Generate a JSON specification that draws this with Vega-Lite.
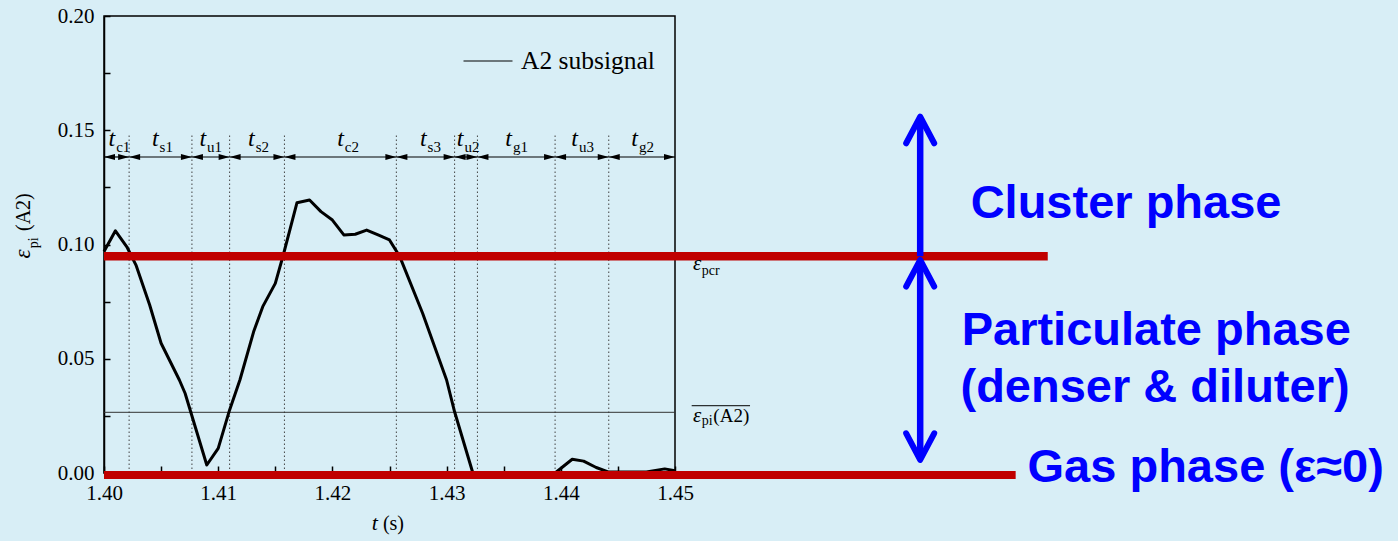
{
  "$schema": "https://vega.github.io/schema/vega-lite/v6.json",
  "width": 571,
  "height": 457,
  "autosize": {"type": "none"},
  "padding": {"left": 104, "top": 16, "right": 723, "bottom": 68},
  "background": "#d8eef6",
  "config": {
    "view": {"stroke": "#000000", "strokeWidth": 1.5},
    "font": "Liberation Serif"
  },
  "datasets": {
    "signal": [
      {"t": 1.4000, "v": 0.0969}, {"t": 1.4010, "v": 0.1060}, {"t": 1.4020, "v": 0.0990},
      {"t": 1.4028, "v": 0.0910}, {"t": 1.4040, "v": 0.0735}, {"t": 1.4050, "v": 0.0568},
      {"t": 1.4066, "v": 0.0407}, {"t": 1.4071, "v": 0.0349}, {"t": 1.4090, "v": 0.0035},
      {"t": 1.4100, "v": 0.0108}, {"t": 1.4110, "v": 0.0276}, {"t": 1.4119, "v": 0.0407},
      {"t": 1.4131, "v": 0.0618}, {"t": 1.4139, "v": 0.0728}, {"t": 1.4150, "v": 0.0830},
      {"t": 1.4157, "v": 0.0954}, {"t": 1.4169, "v": 0.1183}, {"t": 1.4180, "v": 0.1195},
      {"t": 1.4190, "v": 0.1144}, {"t": 1.4200, "v": 0.1107}, {"t": 1.4210, "v": 0.1042},
      {"t": 1.4220, "v": 0.1045}, {"t": 1.4230, "v": 0.1063}, {"t": 1.4240, "v": 0.1042},
      {"t": 1.4250, "v": 0.1020}, {"t": 1.4259, "v": 0.0947}, {"t": 1.4279, "v": 0.0699},
      {"t": 1.4300, "v": 0.0407}, {"t": 1.4307, "v": 0.0268}, {"t": 1.4323, "v": 0.0},
      {"t": 1.4395, "v": 0.0}, {"t": 1.4410, "v": 0.0060}, {"t": 1.4420, "v": 0.0052},
      {"t": 1.4431, "v": 0.0024}, {"t": 1.4442, "v": 0.0004}, {"t": 1.4475, "v": 0.0004},
      {"t": 1.4491, "v": 0.0018}, {"t": 1.4500, "v": 0.0010}
    ],
    "segments": [
      {"seg": "c1", "start": 1.4000, "end": 1.4022, "lx": 1.40098},
      {"seg": "s1", "start": 1.4022, "end": 1.4077, "lx": 1.40478},
      {"seg": "u1", "start": 1.4077, "end": 1.4110, "lx": 1.40894},
      {"seg": "s2", "start": 1.4110, "end": 1.4158, "lx": 1.41320},
      {"seg": "c2", "start": 1.4158, "end": 1.4256, "lx": 1.42100},
      {"seg": "s3", "start": 1.4256, "end": 1.4307, "lx": 1.42825},
      {"seg": "u2", "start": 1.4307, "end": 1.4327, "lx": 1.43147},
      {"seg": "g1", "start": 1.4327, "end": 1.4395, "lx": 1.43572},
      {"seg": "u3", "start": 1.4395, "end": 1.4442, "lx": 1.44150},
      {"seg": "g2", "start": 1.4442, "end": 1.4500, "lx": 1.44676}
    ]
  },
  "layer": [
    {
      "data": {"name": "segments"},
      "transform": [{"filter": "datum.start > 1.4001"}],
      "mark": {"type": "rule", "color": "#444444", "strokeWidth": 1, "strokeDash": [1.5, 2.5]},
      "encoding": {
        "x": {"field": "start", "type": "quantitative", "title": null, "scale": {"domain": [1.4, 1.45], "nice": false, "zero": false}},
        "y": {"datum": 0, "type": "quantitative", "scale": {"domain": [0, 0.2], "nice": false, "zero": false}},
        "y2": {"datum": 0.148}
      }
    },
    {
      "data": {"values": [{"mean": 0.02656}]},
      "mark": {"type": "rule", "color": "#333333", "strokeWidth": 1},
      "encoding": {
        "x": {"datum": 1.4, "type": "quantitative", "scale": {"domain": [1.4, 1.45], "nice": false, "zero": false}},
        "x2": {"datum": 1.45},
        "y": {"field": "mean", "type": "quantitative", "title": null, "scale": {"domain": [0, 0.2], "nice": false, "zero": false}}
      }
    },
    {
      "data": {"name": "segments"},
      "mark": {"type": "rule", "color": "#000000", "strokeWidth": 1.2},
      "encoding": {
        "x": {"field": "start", "type": "quantitative", "title": null, "scale": {"domain": [1.4, 1.45], "nice": false, "zero": false}},
        "x2": {"field": "end"},
        "y": {"datum": 0.1383, "type": "quantitative", "scale": {"domain": [0, 0.2], "nice": false, "zero": false}}
      }
    },
    {
      "data": {"name": "segments"},
      "mark": {"type": "point", "shape": "M0,0L1,-0.27L1,0.27Z", "filled": true, "color": "#000000", "size": 484, "opacity": 1},
      "encoding": {
        "x": {"field": "start", "type": "quantitative", "title": null, "scale": {"domain": [1.4, 1.45], "nice": false, "zero": false}},
        "y": {"datum": 0.1383, "type": "quantitative", "scale": {"domain": [0, 0.2], "nice": false, "zero": false}}
      }
    },
    {
      "data": {"name": "segments"},
      "mark": {"type": "point", "shape": "M0,0L-1,-0.27L-1,0.27Z", "filled": true, "color": "#000000", "size": 484, "opacity": 1},
      "encoding": {
        "x": {"field": "end", "type": "quantitative", "title": null, "scale": {"domain": [1.4, 1.45], "nice": false, "zero": false}},
        "y": {"datum": 0.1383, "type": "quantitative", "scale": {"domain": [0, 0.2], "nice": false, "zero": false}}
      }
    },
    {
      "data": {"name": "segments"},
      "mark": {"type": "text", "text": "t", "font": "Liberation Serif", "fontStyle": "italic", "fontSize": 24, "align": "right", "baseline": "alphabetic", "color": "#000000"},
      "encoding": {
        "x": {"field": "lx", "type": "quantitative", "title": null, "scale": {"domain": [1.4, 1.45], "nice": false, "zero": false}},
        "y": {"datum": 0.14324, "type": "quantitative", "scale": {"domain": [0, 0.2], "nice": false, "zero": false}}
      }
    },
    {
      "data": {"name": "segments"},
      "mark": {"type": "text", "font": "Liberation Serif", "fontSize": 15, "align": "left", "baseline": "alphabetic", "dx": 1, "color": "#000000"},
      "encoding": {
        "text": {"field": "seg"},
        "x": {"field": "lx", "type": "quantitative", "title": null, "scale": {"domain": [1.4, 1.45], "nice": false, "zero": false}},
        "y": {"datum": 0.14061, "type": "quantitative", "scale": {"domain": [0, 0.2], "nice": false, "zero": false}}
      }
    },
    {
      "data": {"name": "signal"},
      "mark": {"type": "line", "strokeWidth": 3, "strokeJoin": "round"},
      "encoding": {
        "x": {
          "field": "t", "type": "quantitative", "title": null,
          "scale": {"domain": [1.4, 1.45], "nice": false, "zero": false},
          "axis": {
            "values": [1.4, 1.405, 1.41, 1.415, 1.42, 1.425, 1.43, 1.435, 1.44, 1.445, 1.45],
            "labelExpr": "round(datum.value*1000) % 10 == 0 ? format(datum.value, '.2f') : ''",
            "tickSize": -7, "tickWidth": 1.5, "tickColor": "#000000",
            "domainColor": "#000000", "domainWidth": 1.5,
            "labelFont": "Liberation Serif", "labelFontSize": 21, "labelColor": "#000000",
            "labelPadding": 16, "labelFlush": false, "labelOverlap": false, "grid": false, "title": null
          }
        },
        "y": {
          "field": "v", "type": "quantitative", "title": null,
          "scale": {"domain": [0, 0.2], "nice": false, "zero": false},
          "axis": {
            "values": [0, 0.025, 0.05, 0.075, 0.1, 0.125, 0.15, 0.175, 0.2],
            "labelExpr": "round(datum.value*1000) % 50 == 0 ? format(datum.value, '.2f') : ''",
            "tickSize": -6, "tickWidth": 1.5, "tickColor": "#000000",
            "domainColor": "#000000", "domainWidth": 1.5,
            "labelFont": "Liberation Serif", "labelFontSize": 21, "labelColor": "#000000",
            "labelPadding": 16, "labelFlush": false, "labelOverlap": false, "grid": false, "title": null
          }
        },
        "color": {
          "datum": "A2 subsignal",
          "scale": {"range": ["#000000"]},
          "legend": {
            "orient": "top-right", "offset": 20, "title": null, "padding": 0,
            "symbolType": "stroke", "symbolSize": 2401, "symbolStrokeWidth": 1,
            "symbolStrokeColor": "#000000",
            "labelFont": "Liberation Serif", "labelFontSize": 25.5, "labelColor": "#000000",
            "labelOffset": 8, "labelLimit": 400
          }
        }
      }
    },
    {
      "data": {"values": [{"level": 0.0949}]},
      "mark": {"type": "rule", "color": "#c00000", "strokeWidth": 8.5},
      "encoding": {
        "x": {"datum": 1.4, "type": "quantitative", "scale": {"domain": [1.4, 1.45], "nice": false, "zero": false}},
        "x2": {"datum": 1.48264},
        "y": {"field": "level", "type": "quantitative", "title": null, "scale": {"domain": [0, 0.2], "nice": false, "zero": false}}
      }
    },
    {
      "data": {"values": [{"level": -0.0009}]},
      "mark": {"type": "rule", "color": "#c00000", "strokeWidth": 8},
      "encoding": {
        "x": {"datum": 1.4, "type": "quantitative", "scale": {"domain": [1.4, 1.45], "nice": false, "zero": false}},
        "x2": {"datum": 1.47983},
        "y": {"field": "level", "type": "quantitative", "title": null, "scale": {"domain": [0, 0.2], "nice": false, "zero": false}}
      }
    },
    {
      "data": {"values": [{"lo": 0.0949, "hi": 0.155}, {"lo": 0.0062, "hi": 0.0928}]},
      "mark": {"type": "rule", "color": "#0000ff", "strokeWidth": 6.5},
      "encoding": {
        "x": {"datum": 1.47147, "type": "quantitative", "scale": {"domain": [1.4, 1.45], "nice": false, "zero": false}},
        "y": {"field": "lo", "type": "quantitative", "title": null, "scale": {"domain": [0, 0.2], "nice": false, "zero": false}},
        "y2": {"field": "hi"}
      }
    },
    {
      "data": {"values": [{"tip": 0.156}, {"tip": 0.0933}]},
      "mark": {"type": "point", "shape": "M-0.525,1L0,0L0.525,1", "filled": false, "color": "#0000ff", "strokeWidth": 6, "strokeCap": "round", "strokeJoin": "round", "size": 2852, "opacity": 1},
      "encoding": {
        "x": {"datum": 1.47147, "type": "quantitative", "scale": {"domain": [1.4, 1.45], "nice": false, "zero": false}},
        "y": {"field": "tip", "type": "quantitative", "title": null, "scale": {"domain": [0, 0.2], "nice": false, "zero": false}}
      }
    },
    {
      "data": {"values": [{"tip": 0.0057}]},
      "mark": {"type": "point", "shape": "M-0.525,-1L0,0L0.525,-1", "filled": false, "color": "#0000ff", "strokeWidth": 6, "strokeCap": "round", "strokeJoin": "round", "size": 2852, "opacity": 1},
      "encoding": {
        "x": {"datum": 1.47147, "type": "quantitative", "scale": {"domain": [1.4, 1.45], "nice": false, "zero": false}},
        "y": {"field": "tip", "type": "quantitative", "title": null, "scale": {"domain": [0, 0.2], "nice": false, "zero": false}}
      }
    },
    {
      "data": {"values": [
        {"label": "Cluster phase", "px": 1.47589, "py": 0.11147},
        {"label": "Particulate phase", "px": 1.47510, "py": 0.05602},
        {"label": "(denser & diluter)", "px": 1.47500, "py": 0.03120},
        {"label": "Gas phase (ε≈0)", "px": 1.48087, "py": -0.0038}
      ]},
      "mark": {"type": "text", "font": "Liberation Sans", "fontWeight": "bold", "fontSize": 47, "align": "left", "baseline": "alphabetic", "color": "#0000ff"},
      "encoding": {
        "text": {"field": "label"},
        "x": {"field": "px", "type": "quantitative", "title": null, "scale": {"domain": [1.4, 1.45], "nice": false, "zero": false}},
        "y": {"field": "py", "type": "quantitative", "title": null, "scale": {"domain": [0, 0.2], "nice": false, "zero": false}}
      }
    },
    {
      "data": {"values": [
        {"label": "ε", "px": 1.45234, "py": 0.08884},
        {"label": "ε", "px": 1.45234, "py": 0.02245}
      ]},
      "mark": {"type": "text", "font": "Liberation Serif", "fontStyle": "italic", "fontSize": 21, "align": "right", "baseline": "alphabetic", "dx": -0.5, "color": "#000000"},
      "encoding": {
        "text": {"field": "label"},
        "x": {"field": "px", "type": "quantitative", "title": null, "scale": {"domain": [1.4, 1.45], "nice": false, "zero": false}},
        "y": {"field": "py", "type": "quantitative", "title": null, "scale": {"domain": [0, 0.2], "nice": false, "zero": false}}
      }
    },
    {
      "data": {"values": [
        {"label": "pcr", "px": 1.45234, "py": 0.08665},
        {"label": "pi", "px": 1.45234, "py": 0.0210}
      ]},
      "mark": {"type": "text", "font": "Liberation Serif", "fontSize": 14, "align": "left", "baseline": "alphabetic", "color": "#000000"},
      "encoding": {
        "text": {"field": "label"},
        "x": {"field": "px", "type": "quantitative", "title": null, "scale": {"domain": [1.4, 1.45], "nice": false, "zero": false}},
        "y": {"field": "py", "type": "quantitative", "title": null, "scale": {"domain": [0, 0.2], "nice": false, "zero": false}}
      }
    },
    {
      "data": {"values": [{"label": "(A2)", "px": 1.45336, "py": 0.02245}]},
      "mark": {"type": "text", "font": "Liberation Serif", "fontSize": 19, "align": "left", "baseline": "alphabetic", "color": "#000000"},
      "encoding": {
        "text": {"field": "label"},
        "x": {"field": "px", "type": "quantitative", "title": null, "scale": {"domain": [1.4, 1.45], "nice": false, "zero": false}},
        "y": {"field": "py", "type": "quantitative", "title": null, "scale": {"domain": [0, 0.2], "nice": false, "zero": false}}
      }
    },
    {
      "data": {"values": [{"bar": 0.02945}]},
      "mark": {"type": "rule", "color": "#000000", "strokeWidth": 1},
      "encoding": {
        "x": {"datum": 1.45146, "type": "quantitative", "scale": {"domain": [1.4, 1.45], "nice": false, "zero": false}},
        "x2": {"datum": 1.45657},
        "y": {"field": "bar", "type": "quantitative", "title": null, "scale": {"domain": [0, 0.2], "nice": false, "zero": false}}
      }
    },
    {
      "data": {"values": [{"label": "t"}]},
      "mark": {"type": "text", "font": "Liberation Serif", "fontStyle": "italic", "fontSize": 22, "align": "left", "baseline": "alphabetic", "color": "#000000"},
      "encoding": {
        "text": {"field": "label"},
        "x": {"datum": 1.42345, "type": "quantitative", "scale": {"domain": [1.4, 1.45], "nice": false, "zero": false}},
        "y": {"datum": -0.02494, "type": "quantitative", "scale": {"domain": [0, 0.2], "nice": false, "zero": false}}
      }
    },
    {
      "data": {"values": [{"label": "(s)"}]},
      "mark": {"type": "text", "font": "Liberation Serif", "fontSize": 20, "align": "left", "baseline": "alphabetic", "color": "#000000"},
      "encoding": {
        "text": {"field": "label"},
        "x": {"datum": 1.42442, "type": "quantitative", "scale": {"domain": [1.4, 1.45], "nice": false, "zero": false}},
        "y": {"datum": -0.02494, "type": "quantitative", "scale": {"domain": [0, 0.2], "nice": false, "zero": false}}
      }
    },
    {
      "data": {"values": [{"label": "ε"}]},
      "mark": {"type": "text", "font": "Liberation Serif", "fontStyle": "italic", "fontSize": 23, "align": "right", "baseline": "alphabetic", "angle": 270, "color": "#000000"},
      "encoding": {
        "text": {"field": "label"},
        "x": {"datum": 1.39349, "type": "quantitative", "scale": {"domain": [1.4, 1.45], "nice": false, "zero": false}},
        "y": {"datum": 0.0979, "type": "quantitative", "scale": {"domain": [0, 0.2], "nice": false, "zero": false}}
      }
    },
    {
      "data": {"values": [{"label": "pi"}]},
      "mark": {"type": "text", "font": "Liberation Serif", "fontSize": 14, "align": "left", "baseline": "alphabetic", "angle": 270, "color": "#000000"},
      "encoding": {
        "text": {"field": "label"},
        "x": {"datum": 1.39419, "type": "quantitative", "scale": {"domain": [1.4, 1.45], "nice": false, "zero": false}},
        "y": {"datum": 0.09834, "type": "quantitative", "scale": {"domain": [0, 0.2], "nice": false, "zero": false}}
      }
    },
    {
      "data": {"values": [{"label": "(A2)"}]},
      "mark": {"type": "text", "font": "Liberation Serif", "fontSize": 20, "align": "left", "baseline": "alphabetic", "angle": 270, "color": "#000000"},
      "encoding": {
        "text": {"field": "label"},
        "x": {"datum": 1.39349, "type": "quantitative", "scale": {"domain": [1.4, 1.45], "nice": false, "zero": false}},
        "y": {"datum": 0.10590, "type": "quantitative", "scale": {"domain": [0, 0.2], "nice": false, "zero": false}}
      }
    }
  ]
}
